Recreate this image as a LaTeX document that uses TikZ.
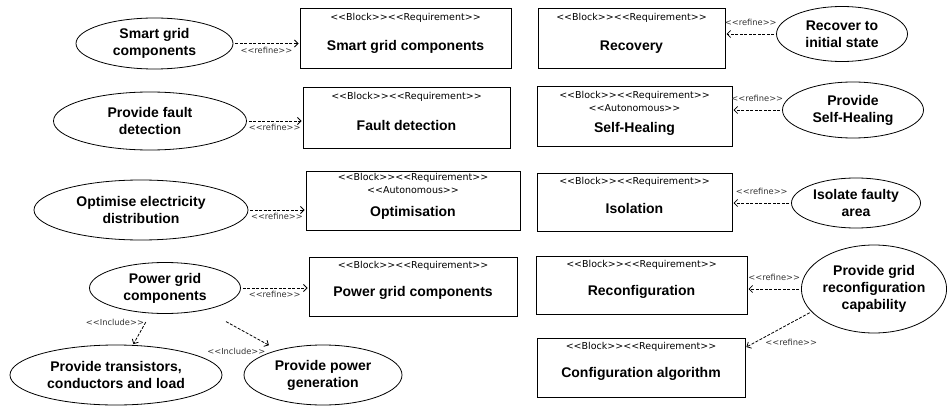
\documentclass[tikz,border=0pt]{standalone}
\usepackage{fontspec}
\setmainfont{Liberation Sans}
\newfontfamily\stfont{DejaVu Sans}
\usetikzlibrary{shapes.geometric, arrows.meta, positioning}

% stereotype text, kept apart so << and >> stay two characters
\newcommand{\stype}[1]{<\kern0pt<#1>\kern0pt>}

\begin{document}
\begin{tikzpicture}[x=1pt, y=-1pt,
  usecase/.style={ellipse, draw, line width=0.8pt, inner sep=0pt, align=center,
    font=\bfseries\fontsize{14}{17}\selectfont},
  reqbox/.style={rectangle, draw, line width=1pt, inner sep=0pt},
  stereo/.style={font=\stfont\fontsize{9.5}{13}\selectfont, align=center, inner sep=0pt},
  reqname/.style={font=\bfseries\fontsize{14}{17}\selectfont, inner sep=0pt},
  dep/.style={line width=0.8pt, dash pattern=on 3pt off 1.5pt,
    -{Straight Barb[length=3.5pt, width=7pt]}, shorten <=2pt, shorten >=1pt},
  deplabel/.style={font=\stfont\fontsize{8.3}{10}\selectfont, text=black!80, inner sep=1pt}]
  \useasboundingbox (0,0) rectangle (947,409);

  % Left use cases
  \node[usecase, minimum width=157, minimum height=51] (sgcuc) at (154.5,43.5) {Smart grid\\components};
  \node[usecase, minimum width=193, minimum height=58] (faultuc) at (150,121) {Provide fault\\detection};
  \node[usecase, minimum width=214, minimum height=60] (optuc) at (141,210) {Optimise electricity\\distribution};
  \node[usecase, minimum width=151, minimum height=51] (pgcuc) at (165,288) {Power grid\\components};
  \node[usecase, minimum width=212, minimum height=60] (ptcluc) at (116,375) {Provide transistors,\\conductors and load};
  \node[usecase, minimum width=158, minimum height=60] (ppguc) at (323,375) {Provide power\\generation};

  % Middle requirements
  \node[reqbox, minimum width=211, minimum height=60] (sgcreq) at (405.5,39) {};
  \node[stereo, below=5pt of sgcreq.north] (sgcst) {\stype{Block}\stype{Requirement}};
  \node[reqname] (sgcname) at ([yshift=-8pt]sgcreq.center) {Smart grid components};

  \node[reqbox, minimum width=207, minimum height=60] (faultreq) at (406.5,118) {};
  \node[stereo, below=5pt of faultreq.north] (faultst) {\stype{Block}\stype{Requirement}};
  \node[reqname] (faultname) at ([yshift=-7pt]faultreq.center) {Fault detection};

  \node[reqbox, minimum width=214, minimum height=59] (optreq) at (413,200.5) {};
  \node[stereo, below=3pt of optreq.north] (optst) {\stype{Block}\stype{Requirement}\\\stype{Autonomous}};
  \node[reqname] (optname) at ([yshift=-12.5pt]optreq.center) {Optimisation};

  \node[reqbox, minimum width=208, minimum height=59] (pgcreq) at (413,286.5) {};
  \node[stereo, below=5pt of pgcreq.north] (pgcst) {\stype{Block}\stype{Requirement}};
  \node[reqname] (pgcname) at ([yshift=-6.5pt]pgcreq.center) {Power grid components};

  % Right requirements
  \node[reqbox, minimum width=187, minimum height=60] (recovreq) at (631.5,39) {};
  \node[stereo, below=5pt of recovreq.north] (recovst) {\stype{Block}\stype{Requirement}};
  \node[reqname] (recovname) at ([yshift=-8pt]recovreq.center) {Recovery};

  \node[reqbox, minimum width=195, minimum height=59] (healreq) at (634.5,116.5) {};
  \node[stereo, below=5pt of healreq.north] (healst) {\stype{Block}\stype{Requirement}\\\stype{Autonomous}};
  \node[reqname] (healname) at ([yshift=-12.5pt]healreq.center) {Self-Healing};

  \node[reqbox, minimum width=195, minimum height=58] (isolreq) at (634.5,202) {};
  \node[stereo, below=5pt of isolreq.north] (isolst) {\stype{Block}\stype{Requirement}};
  \node[reqname] (isolname) at ([yshift=-6pt]isolreq.center) {Isolation};

  \node[reqbox, minimum width=211, minimum height=58] (reconfreq) at (641.5,285) {};
  \node[stereo, below=5pt of reconfreq.north] (reconfst) {\stype{Block}\stype{Requirement}};
  \node[reqname] (reconfname) at ([yshift=-7pt]reconfreq.center) {Reconfiguration};

  \node[reqbox, minimum width=208, minimum height=59] (cfgreq) at (641,367.5) {};
  \node[stereo, below=5pt of cfgreq.north] (cfgst) {\stype{Block}\stype{Requirement}};
  \node[reqname] (cfgname) at ([yshift=-6.5pt]cfgreq.center) {Configuration algorithm};

  % Right use cases
  \node[usecase, minimum width=131, minimum height=55] (recovuc) at (842,34) {Recover to\\initial state};
  \node[usecase, minimum width=141, minimum height=56] (healuc) at (853,110) {Provide\\Self-Healing};
  \node[usecase, minimum width=129, minimum height=50] (isoluc) at (856,203) {Isolate faulty\\area};
  \node[usecase, minimum width=144, minimum height=88] (reconfuc) at (874,289) {Provide grid\\reconfiguration\\capability};

  % refine links, left side
  \draw[dep] (sgcuc.east) -- (sgcuc.east -| sgcreq.west)
    node[deplabel, midway, below=2pt] (sgcref) {\stype{refine}};
  \draw[dep] (faultuc.east) -- (faultuc.east -| faultreq.west)
    node[deplabel, midway, below=2pt] (faultref) {\stype{refine}};
  \draw[dep] (optuc.east) -- (optuc.east -| optreq.west)
    node[deplabel, midway, below=2pt] (optref) {\stype{refine}};
  \draw[dep] (pgcuc.east) -- (pgcuc.east -| pgcreq.west)
    node[deplabel, midway, below=2pt] (pgcref) {\stype{refine}};

  % include links
  \draw[dep, shorten <=10pt] (pgcuc) -- (ptcluc)
    node[deplabel, pos=0.3, anchor=east] (ptclinc) {\stype{Include}};
  \draw[dep, shorten <=24pt, shorten >=10pt] (pgcuc) -- (ppguc)
    node[deplabel, pos=0.85, anchor=north east, yshift=-3pt] (ppginc) {\stype{Include}};

  % refine links, right side
  \draw[dep] (recovuc.west) -- (recovuc.west -| recovreq.east)
    node[deplabel, midway, above=7pt] (recovref) {\stype{refine}};
  \draw[dep] (healuc.west) -- (healuc.west -| healreq.east)
    node[deplabel, midway, above=7pt] (healref) {\stype{refine}};
  \draw[dep] (isoluc.west) -- (isoluc.west -| isolreq.east)
    node[deplabel, midway, above=7pt] (isolref) {\stype{refine}};
  \draw[dep] (reconfuc.west) -- (reconfuc.west -| reconfreq.east)
    node[deplabel, midway, above=7pt] (reconfref) {\stype{refine}};
  \draw[dep] (reconfuc.200) -- ([yshift=-10pt]cfgreq.north east)
    node[deplabel, pos=0.72, anchor=north west] (cfgref) {\stype{refine}};
\end{tikzpicture}
\end{document}
